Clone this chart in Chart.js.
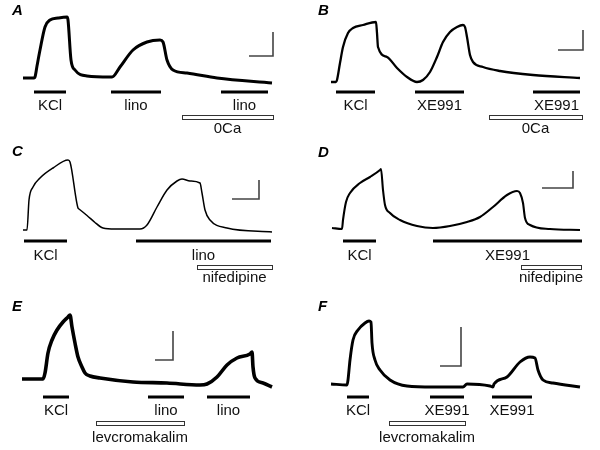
<!DOCTYPE html>
<html>
<head>
<meta charset="utf-8">
<script src="https://cdn.jsdelivr.net/npm/chart.js@4.4.1/dist/chart.umd.min.js"></script>
<style>
    html, body { margin: 0; padding: 0; background: #fff; }
    #fig { position: relative; width: 600px; height: 450px; overflow: hidden; }
    #fig canvas { position: absolute; }
</style>
</head>
<body>
<div id="fig"></div>
<script>
// Tension traces: time (s, arbitrary) and tension above resting baseline (arbitrary units)
const timeA = [23, 34, 35, 37, 40, 45, 50, 58, 67, 68, 71, 75, 87, 110, 112, 120, 133, 147, 160, 163, 167, 173, 187, 217, 272];
const tensionA = [0, 0, 1, 12, 28, 51, 58, 60, 61, 58, 18, 8, 2, 1, 1, 11, 28, 36, 38, 36, 18, 8, 5, 0, -5];

const timeB = [31, 36, 37, 40, 43, 48, 53, 63, 76, 77, 78, 87, 97, 107, 117, 123, 130, 137, 143, 150, 157, 163, 165, 167, 170, 173, 183, 200, 233, 280];
const tensionB = [0, 0, 2, 19, 35, 49, 54, 57, 60, 49, 35, 25, 14, 5, 0, 2, 10, 25, 40, 50, 55, 57, 55, 45, 27, 20, 15, 11, 7, 4];

const timeC = [23, 27, 29, 33, 40, 53, 68, 70, 78, 79, 87, 95, 100, 103, 115, 140, 147, 157, 167, 177, 182, 190, 200, 202, 205, 210, 227, 272];
const tensionC = [0, 0, 30, 43, 52, 62, 70, 68, 22, 21, 14.5, 7.5, 3.5, 2, 1, 1, 5, 23, 40, 49, 51, 49, 47, 37, 20, 10, 2, -2];

const timeD = [32, 42, 43, 46, 50, 60, 70, 80, 81, 83, 85, 90, 100, 117, 133, 150, 167, 180, 193, 207, 217, 220, 223, 225, 230, 250, 280];
const tensionD = [0, -1, 8, 26, 35, 45, 51, 58, 59, 38, 23, 15, 8, 2, 0, 2, 6, 11, 21, 33, 37, 35, 25, 10, 3, -1, -2];

const timeE = [22, 43, 45, 48, 52, 57, 63, 68, 70, 72, 75, 78, 82, 85, 90, 100, 133, 167, 200, 207, 217, 227, 237, 250, 252, 253, 255, 263, 272];
const tensionE = [0, 0, 6, 26, 39, 49, 57, 62, 64, 52, 36, 22, 12, 6, 3, 1, -3, -4, -6, -5, 2, 14, 21, 25, 27, 12, 1, -4, -8];

const timeF = [31, 47, 48, 50, 53, 58, 65, 69, 71, 72, 75, 80, 90, 107, 133, 160, 163, 167, 190, 193, 194, 207, 220, 230, 235, 238, 243, 253, 280];
const tensionF = [0, -1, 4, 24, 44, 54, 61, 63, 62, 41, 24, 14, 4, -2, -3, -3, -3, 0, -2, -3, 0, 7, 22, 27, 26, 14, 4, 1, -3];

// Drug applications: [label, start, end]
const barsA = [['KCl', 34, 66], ['lino', 111, 161], ['lino', 221, 268]];
const hollowA = [['0Ca', 182, 273]];
const barsB = [['KCl', 36, 75], ['XE991', 115, 164], ['XE991', 233, 280]];
const hollowB = [['0Ca', 189, 282]];
const barsC = [['KCl', 24, 67], ['lino', 136, 271]];
const hollowC = [['nifedipine', 197, 272]];
const barsD = [['KCl', 43, 76], ['XE991', 133, 282]];
const hollowD = [['nifedipine', 221, 281]];
const barsE = [['KCl', 43, 69], ['lino', 148, 184], ['lino', 207, 250]];
const hollowE = [['levcromakalim', 96, 184]];
const barsF = [['KCl', 47, 69], ['XE991', 130, 164], ['XE991', 192, 232]];
const hollowF = [['levcromakalim', 89, 165]];

// Calibration bars: [corner time, corner tension, time length, tension length]
const scaleA = [273, 22, 24, 24];
const scaleB = [283, 32, 25, 20];
const scaleC = [259, 31, 27, 19];
const scaleD = [273, 40, 31, 17];
const scaleE = [173, 19, 18, 29];
const scaleF = [161, 18, 21, 39];

const FONT = '"Liberation Sans", Arial, sans-serif';

// rows below each trace (pixels from top of panel)
const row1 = { bar: 92, barText: 110, hollow: 116.5, hollowText: 133 };
const row2 = { bar: 101, barText: 119.5, hollow: 126.5, hollowText: 141.5 };
const row3 = { bar: 107, barText: 125, hollow: 132.5, hollowText: 151.5 };

const panels = [
    { letter: 'A', left: 0, top: 0, height: 140, base: 78, letterPos: [12, 15], time: timeA, tension: tensionA, width: 3, bars: barsA, hollow: hollowA, scale: scaleA, rows: row1 },
    { letter: 'B', left: 300, top: 0, height: 140, base: 82, letterPos: [18, 15], time: timeB, tension: tensionB, width: 2.3, bars: barsB, hollow: hollowB, scale: scaleB, rows: row1 },
    { letter: 'C', left: 0, top: 140, height: 150, base: 90, letterPos: [12, 16], time: timeC, tension: tensionC, width: 1.5, bars: barsC, hollow: hollowC, scale: scaleC, rows: row2 },
    { letter: 'D', left: 300, top: 140, height: 150, base: 88, letterPos: [18, 17], time: timeD, tension: tensionD, width: 2.1, bars: barsD, hollow: hollowD, scale: scaleD, rows: row2 },
    { letter: 'E', left: 0, top: 290, height: 160, base: 89, letterPos: [12, 20.5], time: timeE, tension: tensionE, width: 3.6, bars: barsE, hollow: hollowE, scale: scaleE, rows: row3 },
    { letter: 'F', left: 300, top: 290, height: 160, base: 94, letterPos: [18, 20.5], time: timeF, tension: tensionF, width: 2.9, bars: barsF, hollow: hollowF, scale: scaleF, rows: row3 }
];

// Draws panel letter, application bars with labels and calibration bar
function panelDecor(p) {
    return {
        id: 'decor' + p.letter,
        afterDatasetsDraw(chart) {
            const ctx = chart.ctx;
            const xs = chart.scales.x;
            const ys = chart.scales.y;
            ctx.save();

            ctx.fillStyle = '#000';
            ctx.textBaseline = 'alphabetic';
            ctx.textAlign = 'left';
            ctx.font = 'italic bold 15px ' + FONT;
            ctx.fillText(p.letter, p.letterPos[0], p.letterPos[1]);

            ctx.font = '15px ' + FONT;
            ctx.textAlign = 'center';
            p.bars.forEach(([label, t0, t1]) => {
                const x0 = xs.getPixelForValue(t0);
                const x1 = xs.getPixelForValue(t1);
                ctx.fillStyle = '#000';
                ctx.fillRect(x0, p.rows.bar - 1.5, x1 - x0, 3);
                ctx.fillStyle = '#111';
                ctx.fillText(label, (x0 + x1) / 2, p.rows.barText);
            });

            p.hollow.forEach(([label, t0, t1]) => {
                const x0 = xs.getPixelForValue(t0);
                const x1 = xs.getPixelForValue(t1);
                ctx.fillStyle = '#fff';
                ctx.fillRect(x0, p.rows.hollow - 2, x1 - x0, 4);
                ctx.strokeStyle = '#333';
                ctx.lineWidth = 1;
                ctx.strokeRect(Math.round(x0) + 0.5, Math.round(p.rows.hollow - 2) + 0.5, Math.round(x1 - x0), 4);
                ctx.fillStyle = '#111';
                ctx.fillText(label, (x0 + x1) / 2, p.rows.hollowText);
            });

            const [t, T, dt, dT] = p.scale;
            const cx = xs.getPixelForValue(t);
            const cy = ys.getPixelForValue(T);
            ctx.strokeStyle = '#444';
            ctx.lineWidth = 1.6;
            ctx.beginPath();
            ctx.moveTo(xs.getPixelForValue(t - dt), cy);
            ctx.lineTo(cx, cy);
            ctx.lineTo(cx, ys.getPixelForValue(T + dT));
            ctx.stroke();

            ctx.restore();
        }
    };
}

function makePanel(p) {
    const canvas = document.createElement('canvas');
    canvas.width = 300;
    canvas.height = p.height;
    canvas.style.left = p.left + 'px';
    canvas.style.top = p.top + 'px';
    document.getElementById('fig').appendChild(canvas);

    return new Chart(canvas, {
        type: 'line',
        data: {
            datasets: [{
                data: p.time.map((t, i) => ({ x: t, y: p.tension[i] })),
                borderColor: '#000',
                borderWidth: p.width,
                pointRadius: 0,
                fill: false,
                cubicInterpolationMode: 'monotone'
            }]
        },
        options: {
            responsive: false,
            animation: false,
            events: [],
            layout: { padding: 0 },
            plugins: { legend: { display: false }, tooltip: { enabled: false } },
            scales: {
                x: { type: 'linear', display: false, min: 0, max: 300 },
                y: { type: 'linear', display: false, min: p.base - p.height, max: p.base }
            }
        },
        plugins: [panelDecor(p)]
    });
}

panels.forEach(makePanel);
</script>
</body>
</html>
